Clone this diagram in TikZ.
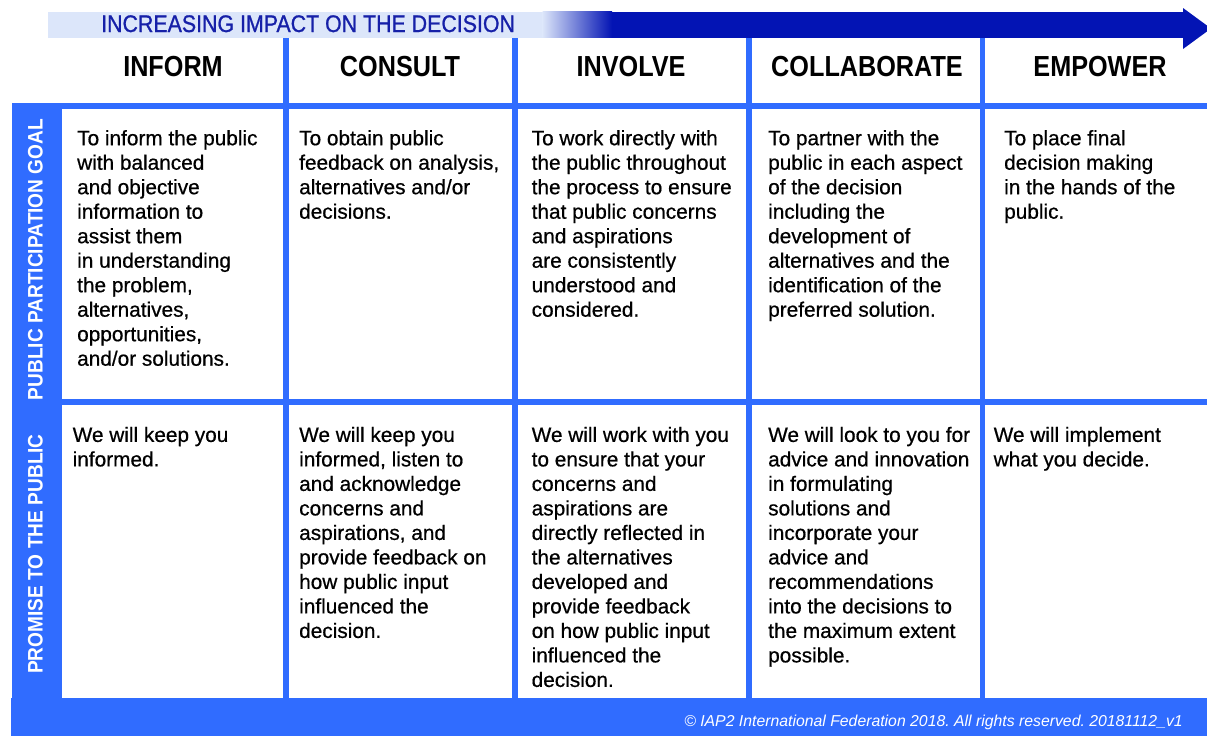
\documentclass[tikz,border=0pt]{standalone}
\usepackage{fontspec}
\usepackage{graphicx}
\setmainfont{Liberation Sans}
\newfontfamily\medfont{Liberation Sans}[FakeBold=0.6]
\newfontfamily\titlefont{Liberation Sans}[FakeBold=1.0]
\frenchspacing
\definecolor{gridblue}{RGB}{48,108,255}
\definecolor{arrowdark}{RGB}{3,20,180}
\definecolor{bandlight}{RGB}{220,230,250}
\definecolor{titleblue}{RGB}{22,32,168}
\newcommand\cellstrut{\rule{0pt}{17pt}}
\newcommand\hxs[2]{\scalebox{#1}[1]{#2}}
\begin{document}
\begin{tikzpicture}[x=1pt,y=-1pt,
  cell/.style={anchor=north west, inner sep=0pt, align=left, text=black,
    font=\medfont\fontsize{20.8}{24.5}\selectfont},
  colhead/.style={anchor=base, inner sep=0pt, text=black,
    font=\fontsize{29}{32}\selectfont\bfseries},
  sidelabel/.style={rotate=90, inner sep=0pt, text=white,
    font=\fontsize{21}{24}\selectfont\bfseries},
  gridfill/.style={fill=gridblue}]
\useasboundingbox (0,0) rectangle (1207,736);
\fill[white] (0,0) rectangle (1207,736);

% arrow band
\fill[bandlight] (48,11.5) rectangle (543,37.7);
\shade[left color=bandlight, right color=arrowdark] (542.5,11.5) rectangle (612,37.7);
\fill[arrowdark] (611.5,11.5) rectangle (1183.5,37.7);
\fill[arrowdark] (1183,8) -- (1211,28.5) -- (1183,49) -- cycle;
\node[anchor=base west, inner sep=0pt, text=titleblue,
  font=\titlefont\fontsize{24}{28}\selectfont] (title) at (101,32)
  {\hxs{0.89}{INCREASING IMPACT ON THE DECISION}};

% grid
\fill[gridfill] (12,103.3) rectangle (62,698);
\fill[gridfill] (12,103.3) rectangle (1207,109);
\fill[gridfill] (62,399.3) rectangle (1207,405);
\fill[gridfill] (283.2,38) rectangle (288.5,698);
\fill[gridfill] (512.2,38) rectangle (517.8,698);
\fill[gridfill] (746.2,38) rectangle (751.8,698);
\fill[gridfill] (979.5,38) rectangle (985.2,698);
\fill[gridfill] (11,698) rectangle (1207,736);

% column headers
\node[colhead] (h1) at (173,76.7) {\hxs{0.87}{INFORM}};
\node[colhead] (h2) at (400,76.7) {\hxs{0.87}{CONSULT}};
\node[colhead] (h3) at (631,76.7) {\hxs{0.87}{INVOLVE}};
\node[colhead] (h4) at (867,76.7) {\hxs{0.87}{COLLABORATE}};
\node[colhead] (h5) at (1100,76.7) {\hxs{0.87}{EMPOWER}};

% side labels
\node[sidelabel] (goal) at (35.5,259.5) {\hxs{0.91}{PUBLIC PARTICIPATION GOAL}};
\node[sidelabel] (promise) at (35.5,554) {\hxs{0.91}{PROMISE TO THE PUBLIC}};

% goal row
\node[cell] (g1) at (77,128) {\cellstrut To inform the public\\with balanced\\and objective\\information to\\assist them\\in understanding\\the problem,\\alternatives,\\opportunities,\\and/or solutions.};
\node[cell] (g2) at (299,128) {\cellstrut To obtain public\\feedback on analysis,\\alternatives and/or\\decisions.};
\node[cell] (g3) at (531.5,128) {\cellstrut To work directly with\\the public throughout\\the process to ensure\\that public concerns\\and aspirations\\are consistently\\understood and\\considered.};
\node[cell] (g4) at (768,128) {\cellstrut To partner with the\\public in each aspect\\of the decision\\including the\\development of\\alternatives and the\\identification of the\\preferred solution.};
\node[cell] (g5) at (1004,128) {\cellstrut To place final\\decision making\\in the hands of the\\public.};

% promise row
\node[cell] (p1) at (72.5,424.7) {\cellstrut We will keep you\\informed.};
\node[cell] (p2) at (299,424.7) {\cellstrut We will keep you\\informed, listen to\\and acknowledge\\concerns and\\aspirations, and\\provide feedback on\\how public input\\influenced the\\decision.};
\node[cell] (p3) at (531.5,424.7) {\cellstrut We will work with you\\to ensure that your\\concerns and\\aspirations are\\directly reflected in\\the alternatives\\developed and\\provide feedback\\on how public input\\influenced the\\decision.};
\node[cell] (p4) at (768,424.7) {\cellstrut We will look to you for\\advice and innovation\\in formulating\\solutions and\\incorporate your\\advice and\\recommendations\\into the decisions to\\the maximum extent\\possible.};
\node[cell] (p5) at (993.5,424.7) {\cellstrut We will implement\\what you decide.};

% footer
\node[anchor=base east, inner sep=0pt, text=white,
  font=\fontsize{15.8}{18}\selectfont\itshape] (foot) at (1183,726.5)
  {© IAP2 International Federation 2018. All rights reserved. 20181112\_v1};
\end{tikzpicture}
\end{document}
